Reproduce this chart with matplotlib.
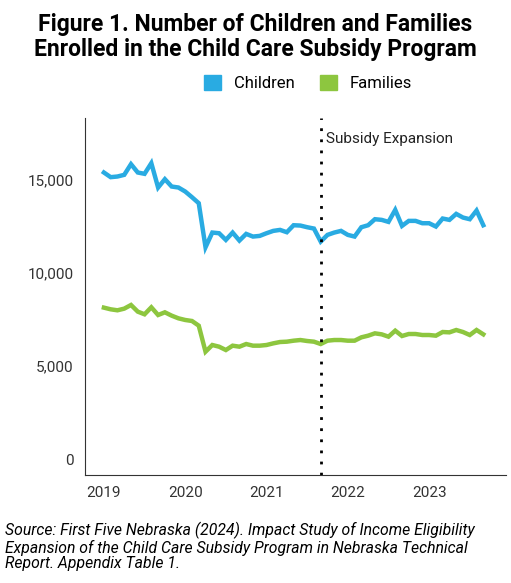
import matplotlib
matplotlib.use("Agg")
import matplotlib.pyplot as plt
import numpy as np

plt.rcParams['font.family'] = ['Roboto', 'DejaVu Sans']

children = [15393,15143,15178,15268,15841,15393,15322,15895,14587,15035,14640,14587,14372,14067,13745,
            11380,12168,12132,11774,12168,11738,12096,11953,11989,12132,12258,12311,12186,12562,12544,12455,12383,
            11684,12043,12168,12258,12043,11953,12455,12562,12885,12849,12741,13386,12526,12795,12795,12669,12669,
            12491,12921,12849,13171,12974,12885,13351,12562]
families = [8136,8046,7993,8082,8279,7921,7778,8154,7741,7885,7706,7562,7473,7419,7168,
            5770,6129,6039,5860,6093,6039,6182,6093,6093,6129,6218,6290,6308,6361,6397,6344,6308,
            6182,6361,6397,6397,6361,6361,6541,6630,6756,6702,6577,6899,6613,6720,6720,6666,6666,
            6630,6827,6809,6935,6827,6666,6935,6702]
start_year = 2019
expansion_month = 32  # months after Jan 2019
years = [2019, 2020, 2021, 2022, 2023]
yticks = [0, 5000, 10000, 15000]

x = start_year + np.arange(len(children)) / 12.0

fig = plt.figure(figsize=(5.11, 5.83), dpi=100)
ax = fig.add_axes([0.166, 0.185, 0.825, 0.613])
ax.plot(x, children, color='#29abe2', lw=3.2, label='Children', solid_joinstyle='miter')
ax.plot(x, families, color='#8dc63f', lw=3.2, label='Families', solid_joinstyle='miter')
xe = start_year + expansion_month / 12.0
ax.axvline(xe, color='black', ls=(0, (1, 3)), lw=2)
ax.text(xe + 0.07, 17200, 'Subsidy Expansion', fontsize=11, va='center', color='#222222')

ax.set_xlim(2019 - 19/81, 2019 + 401/81)
ax.set_ylim(-860, 18333)
ax.set_xticks(years)
ax.set_xticklabels([str(y) for y in years])
ax.set_yticks(yticks)
ax.set_yticklabels(['0', '5,000', '10,000', '15,000'])
ax.tick_params(length=0, labelsize=11, colors='#333333', pad=8)
for s in ['top', 'right']:
    ax.spines[s].set_visible(False)
ax.spines['left'].set_color('#333333')
ax.spines['bottom'].set_color('#333333')

fig.text(0.5, 0.978, 'Figure 1. Number of Children and Families\nEnrolled in the Child Care Subsidy Program',
         ha='center', va='top', fontsize=16.5, fontweight='bold', linespacing=1.1)
ax.legend(loc='lower center', bbox_to_anchor=(0.53, 1.0), ncol=2, frameon=False, fontsize=12,
          handlelength=1.0, handleheight=1.0, borderaxespad=1.2,
          handles=[plt.Rectangle((0,0),1,1,color='#29abe2'), plt.Rectangle((0,0),1,1,color='#8dc63f')],
          labels=['Children', 'Families'], columnspacing=1.5)
fig.text(0.01, 0.105, 'Source: First Five Nebraska (2024). Impact Study of Income Eligibility\n'
         'Expansion of the Child Care Subsidy Program in Nebraska Technical\nReport. Appendix Table 1.',
         ha='left', va='top', fontsize=11.3, style='italic', linespacing=1.05)
fig.savefig('out.png', dpi=100)
